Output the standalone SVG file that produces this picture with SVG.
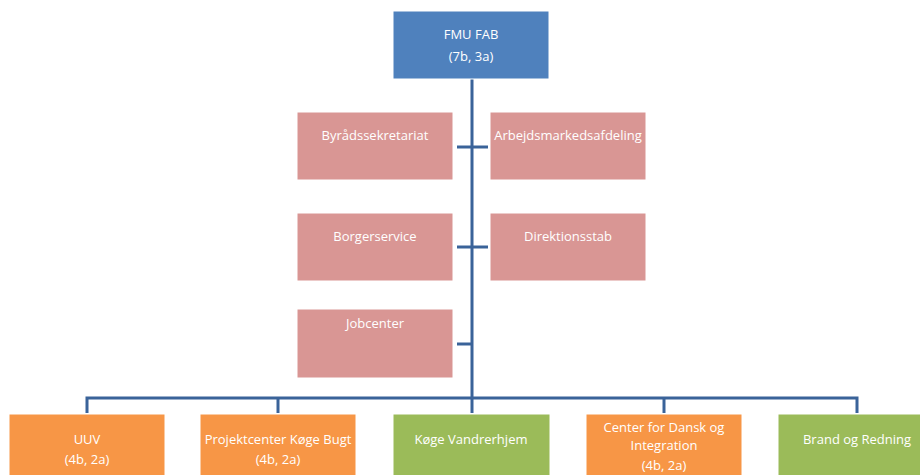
<svg xmlns="http://www.w3.org/2000/svg" width="920" height="475" viewBox="0 0 920 475">
<style>
.t{font-family:"Open Sans","Liberation Sans",sans-serif;font-size:13px;fill:#ffffff;text-anchor:middle}
.blue{fill:#4F81BD}
.pink{fill:#D99694}
.orange{fill:#F79646}
.green{fill:#9BBB59}
.box{stroke:#ffffff;stroke-width:1}
.c{stroke:#3A6399;stroke-width:3;fill:none}
</style>
<rect width="920" height="475" fill="#ffffff"/>
<g id="connectors">
<line class="c" x1="472" y1="79" x2="472" y2="398"/>
<line class="c" x1="457" y1="147" x2="488" y2="147"/>
<line class="c" x1="457" y1="247" x2="488" y2="247"/>
<line class="c" x1="457" y1="344" x2="472" y2="344"/>
<polyline class="c" points="87,413 87,398 857,398 857,413"/>
<line class="c" x1="278" y1="398" x2="278" y2="413"/>
<line class="c" x1="472" y1="398" x2="472" y2="413"/>
<line class="c" x1="664" y1="398" x2="664" y2="413"/>
</g>
<g id="fmu-fab"><rect class="box blue" x="393" y="11" width="156" height="68"/><text class="t" x="471" y="39">FMU FAB</text><text class="t" x="471" y="61">(7b, 3a)</text></g>
<g id="byraadssekretariat"><rect class="box pink" x="297" y="112" width="156" height="68"/><text class="t" x="375" y="140">Byrådssekretariat</text></g>
<g id="arbejdsmarkedsafdeling"><rect class="box pink" x="490" y="112" width="156" height="68"/><text class="t" x="568" y="140">Arbejdsmarkedsafdeling</text></g>
<g id="borgerservice"><rect class="box pink" x="297" y="213" width="156" height="68"/><text class="t" x="375" y="241">Borgerservice</text></g>
<g id="direktionsstab"><rect class="box pink" x="490" y="213" width="156" height="68"/><text class="t" x="568" y="241">Direktionsstab</text></g>
<g id="jobcenter"><rect class="box pink" x="297" y="309" width="156" height="69"/><text class="t" x="375" y="328">Jobcenter</text></g>
<g id="uuv"><rect class="box orange" x="9" y="414" width="156" height="68"/><text class="t" x="87" y="444">UUV</text><text class="t" x="87" y="464">(4b, 2a)</text></g>
<g id="projektcenter"><rect class="box orange" x="200" y="414" width="156" height="68"/><text class="t" x="278" y="444">Projektcenter Køge Bugt</text><text class="t" x="278" y="464">(4b, 2a)</text></g>
<g id="koege-vandrerhjem"><rect class="box green" x="393" y="414" width="157" height="68"/><text class="t" x="471" y="444">Køge Vandrerhjem</text></g>
<g id="center-dansk"><rect class="box orange" x="586" y="414" width="156" height="68"/><text class="t" x="664" y="432">Center for Dansk og</text><text class="t" x="664" y="450">Integration</text><text class="t" x="664" y="470">(4b, 2a)</text></g>
<g id="brand-redning"><rect class="box green" x="778" y="414" width="158" height="68"/><text class="t" x="857" y="444">Brand og Redning</text></g>
</svg>
